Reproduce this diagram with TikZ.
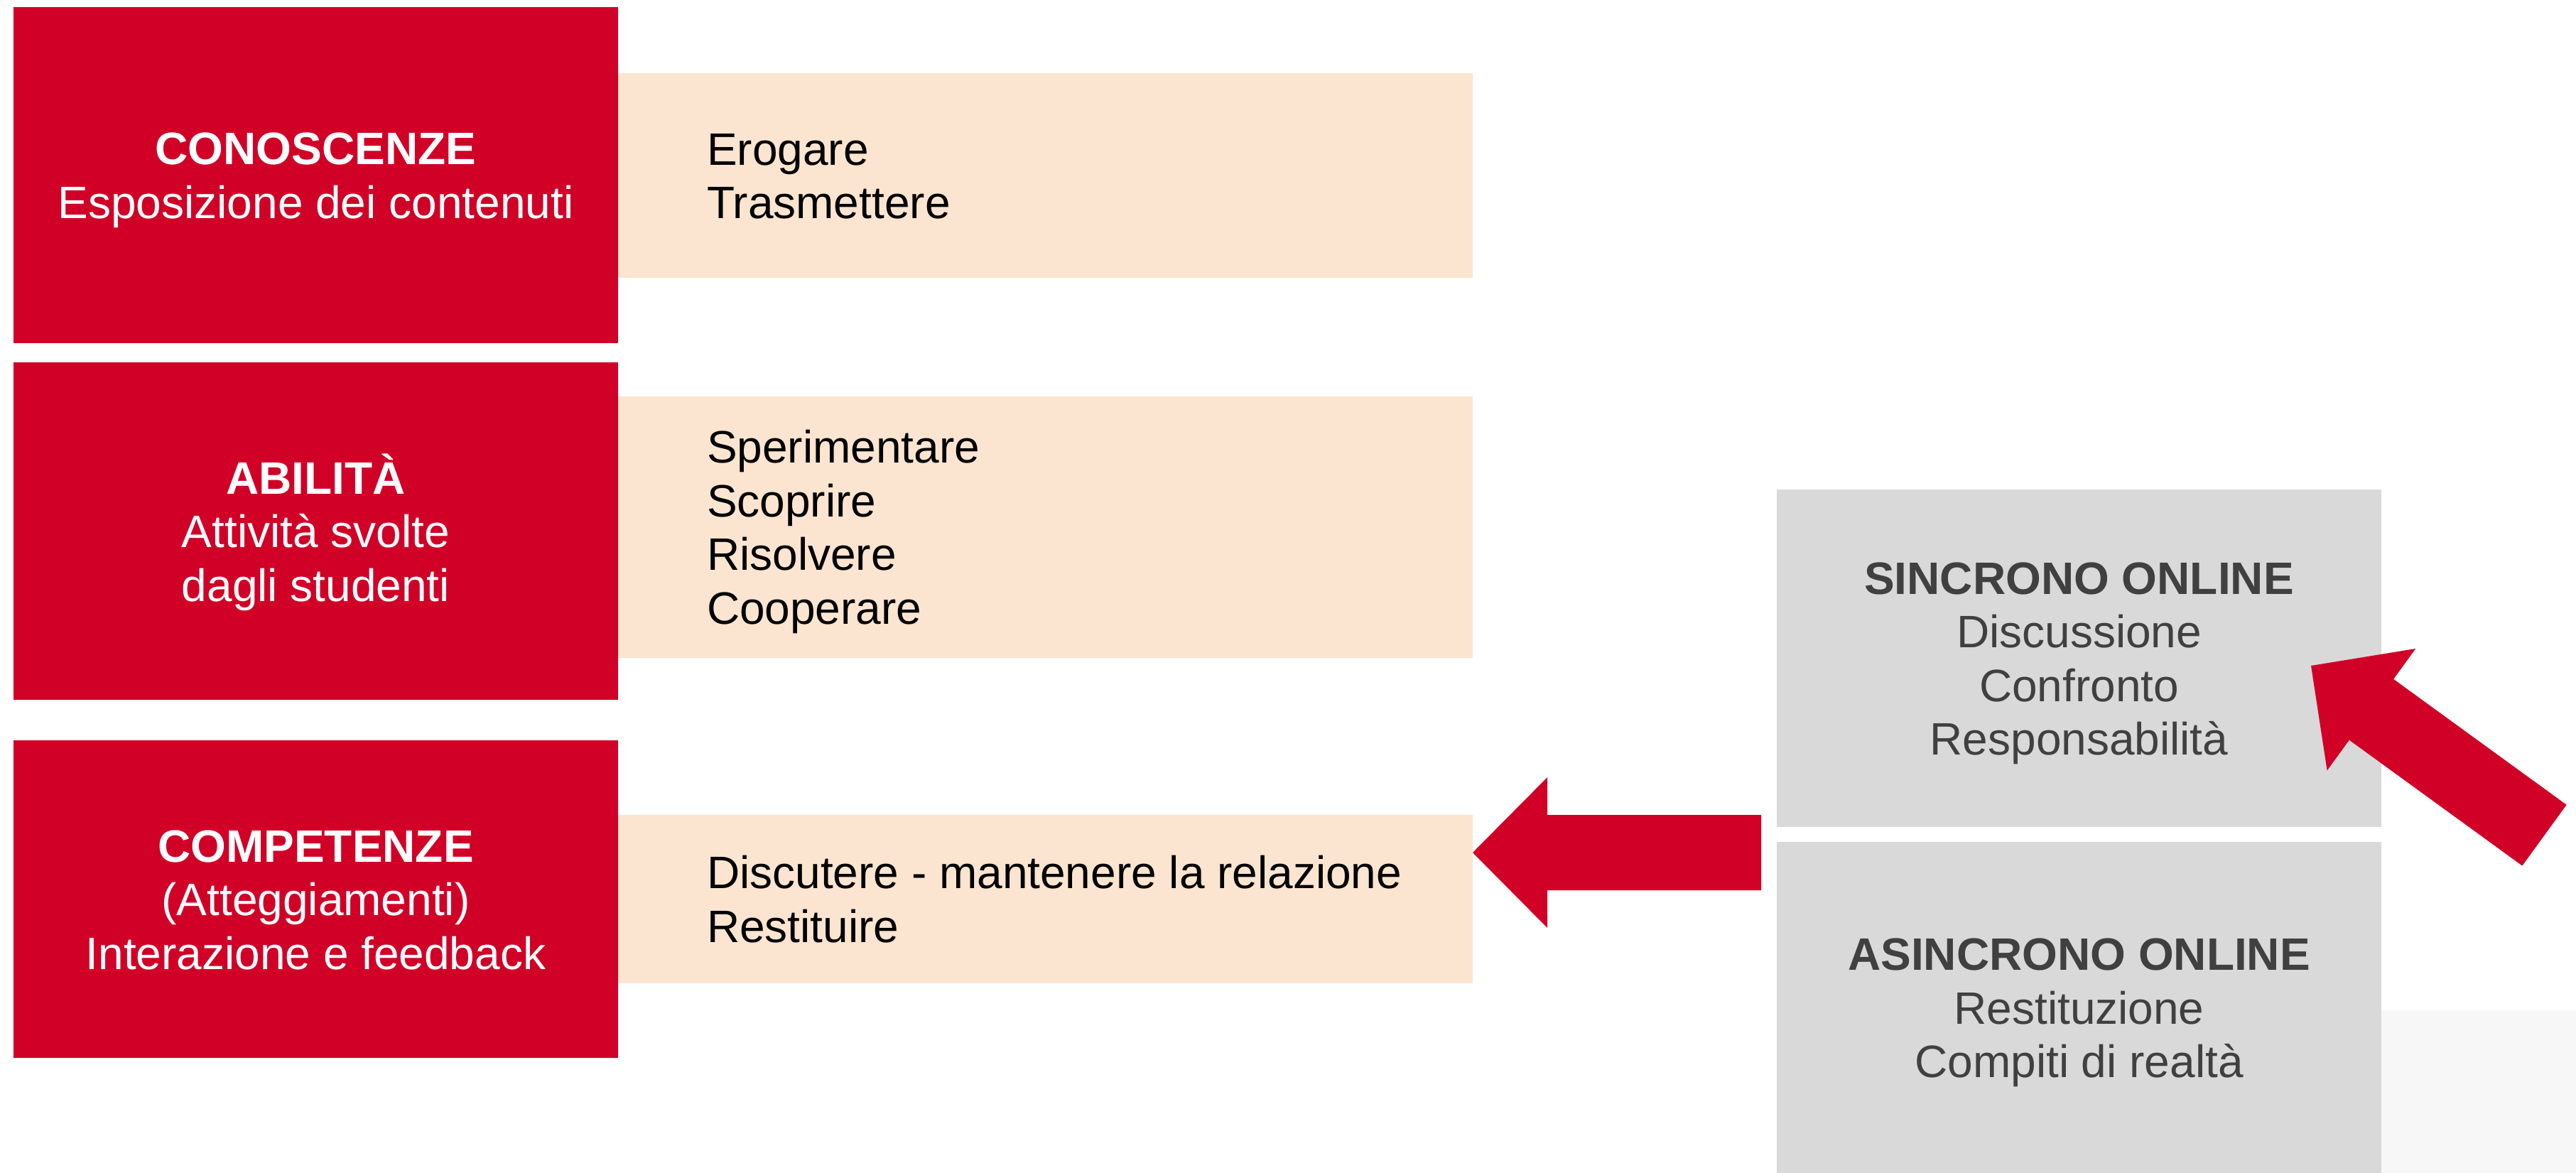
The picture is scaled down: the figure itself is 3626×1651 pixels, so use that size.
\documentclass[tikz,border=0pt]{standalone}
\usepackage{fontspec}
\setmainfont{Liberation Sans}
\definecolor{myred}{RGB}{209,0,39}
\definecolor{mybeige}{RGB}{251,229,208}
\definecolor{mygray}{RGB}{217,217,217}
\definecolor{mytext}{RGB}{64,64,64}
\definecolor{mylight}{RGB}{247,247,247}
% fix line box to cap height, no depth, so text blocks centre as in the reference
\newcommand\capline[1]{\raisebox{0pt}[46pt][0pt]{#1}}
\tikzset{
  box/.style={rectangle, inner sep=0pt, outer sep=0pt, font=\fontsize{64}{75.5}\selectfont, align=center},
  redbox/.style={box, fill=myred, text=white},
  beigebox/.style={box, fill=mybeige},
  graybox/.style={box, fill=mygray, text=mytext},
  listtext/.style={inner sep=0pt, outer sep=0pt, font=\fontsize{64}{75.5}\selectfont, align=left, text=black, anchor=west},
  blockarrow/.pic={\fill[myred] (0,0) -- (105,-106) -- (105,-53) -- (406,-53) -- (406,53) -- (105,53) -- (105,106) -- cycle;}
}
\begin{document}
\begin{tikzpicture}[x=1pt,y=-1pt]
\useasboundingbox (0,0) rectangle (3626,1651);
\fill[white] (0,0) rectangle (3626,1651);
\fill[mylight] (3352,1422) rectangle (3626,1651);

% left column (red)
\node[redbox, minimum width=851, minimum height=473] (r1) at (444.5,246.5)
  {\capline{\textbf{CONOSCENZE}}\\\capline{Esposizione dei contenuti}};
\node[redbox, minimum width=851, minimum height=475] (r2) at (444.5,747.5)
  {\capline{\textbf{ABILITÀ}}\\Attività svolte\\\capline{dagli studenti}};
\node[redbox, minimum width=851, minimum height=447] (r3) at (444.5,1265.5)
  {\capline{\textbf{COMPETENZE}}\\(Atteggiamenti)\\\capline{Interazione e feedback}};

% middle column (beige)
\node[beigebox, minimum width=1203, minimum height=288] (b1) at (1471.5,247) {};
\node[beigebox, minimum width=1203, minimum height=368] (b2) at (1471.5,742) {};
\node[beigebox, minimum width=1203, minimum height=237] (b3) at (1471.5,1265.5) {};
\node[listtext] (t1) at ([xshift=125pt]b1.west) {\capline{Erogare}\\\capline{Trasmettere}};
\node[listtext] (t2) at ([xshift=125pt]b2.west) {\capline{Sperimentare}\\Scoprire\\Risolvere\\\capline{Cooperare}};
\node[listtext] (t3) at ([xshift=125pt]b3.west) {\capline{Discutere - mantenere la relazione}\\\capline{Restituire}};

% right column (gray)
\node[graybox, minimum width=851, minimum height=475] (g1) at (2926.5,926.5)
  {\capline{\textbf{SINCRONO ONLINE}}\\Discussione\\Confronto\\\capline{Responsabilità}};
\node[graybox, minimum width=851, minimum height=466] (g2) at (2926.5,1418)
  {\capline{\textbf{ASINCRONO ONLINE}}\\Restituzione\\\capline{Compiti di realtà}};

% block arrows
\coordinate (tipA) at (2073,1200);
\coordinate (tipB) at (3253,937);
\pic at (tipA) {blockarrow};
\pic[rotate=-36] at (tipB) {blockarrow};
\end{tikzpicture}
\end{document}
